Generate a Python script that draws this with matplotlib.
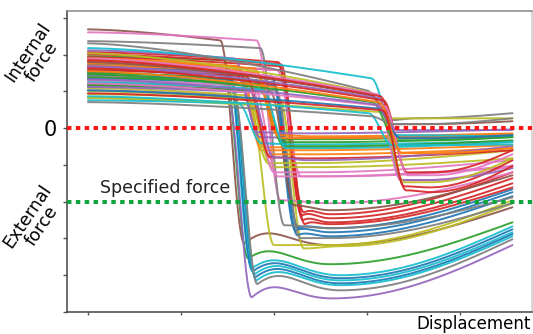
import numpy as np
import matplotlib
matplotlib.use("Agg")
import matplotlib.pyplot as plt

# one entry per loading curve: colour, force at start, force just before the drop,
# displacement where the force drops, force just after the drop, displacement and
# force of the lowest point, size of the small rebound after the drop, force at end
curve_colors = [
    "tab:brown", "tab:green", "tab:cyan", "tab:blue", "tab:cyan", "tab:blue", "tab:cyan", "tab:gray", "tab:purple",
    "tab:olive", "tab:olive", "tab:blue", "tab:blue", "tab:blue", "tab:gray", "tab:red", "tab:red", "tab:red", "tab:red",
    "tab:brown", "tab:pink", "tab:gray", "tab:pink",
    "tab:orange", "tab:orange", "tab:orange", "tab:olive", "tab:olive", "tab:pink", "tab:pink", "tab:purple", "tab:purple",
    "tab:cyan", "tab:green", "tab:green", "tab:green", "tab:orange", "tab:orange", "tab:cyan", "tab:red", "tab:purple",
    "tab:cyan", "tab:gray", "tab:olive", "tab:brown", "tab:pink", "tab:red", "tab:purple", "tab:olive", "tab:red",
    "tab:green", "tab:pink", "tab:blue", "tab:purple", "tab:cyan", "tab:gray", "tab:orange", "tab:red",
]
start_force = [
    2.69, 1.96, 1.85, 1.74, 1.58, 1.44, 1.31, 1.14, 1.03,
    0.82, 0.93, 1.69, 1.52, 1.36, 1.25, 2.07, 1.93, 1.82, 2.01,
    1.20, 2.61, 2.37, 1.80,
    1.90, 1.77, 1.63, 1.09, 1.01, 1.41, 1.31, 2.12, 1.66,
    0.76, 1.50, 1.39, 1.17, 1.85, 1.71, 1.25, 1.58, 1.12,
    2.18, 2.31, 2.04, 1.80, 1.90, 1.85, 1.69, 0.84, 1.63,
    1.47, 1.22, 1.03, 1.33, 0.87, 0.71, 1.55, 0.95,
]
predrop_force = [
    2.39, 1.85, 1.69, 1.58, 1.44, 1.31, 1.17, 1.03, 0.90,
    0.63, 0.76, 1.41, 1.25, 1.17, 1.03, 1.80, 1.69, 1.58, 1.74,
    0.98, 2.39, 2.18, 1.58,
    1.69, 1.58, 1.47, 0.90, 0.82, 1.22, 1.14, 1.90, 1.47,
    0.68, 1.31, 1.20, 1.01, 1.63, 1.52, 1.06, 1.41, 0.98,
    1.36, 1.03, 0.98, 0.90, 0.93, 0.87, 0.82, 0.44, 0.76,
    0.71, 0.60, 0.54, 0.65, 0.41, 0.33, 0.71, 0.49,
]
drop_disp = [
    155, 159, 163, 164, 166, 167, 168, 169, 163,
    187, 219, 210, 212, 213, 215, 217, 218, 219, 220,
    209, 194, 198, 216,
    174, 176, 181, 181, 185, 187, 191, 170, 172,
    174, 194, 196, 198, 191, 194, 200, 183, 187,
    317, 312, 314, 316, 323, 327, 325, 327, 330,
    318, 331, 323, 320, 314, 316, 325, 329,
]
after_force = [
    -3.13, -3.54, -3.81, -3.89, -3.97, -4.05, -4.14, -4.24, -4.60,
    -3.18, -3.27, -2.78, -2.91, -2.72, -2.99, -2.37, -2.50, -2.29, -2.61,
    -2.10, -1.96, -2.64, -1.31,
    -0.60, -0.52, -0.71, -0.95, -1.06, -1.20, -1.31, -0.11, -0.24,
    -0.41, -0.30, -0.38, -0.49, -0.19, -0.27, -0.54, -0.79, -0.79,
    -0.19, 0.22, 0.27, 0.11, -1.41, -1.58, -1.41, -1.47, -1.20,
    -0.33, -1.28, -0.27, -0.05, -0.46, 0.11, -0.68, -1.69,
]
low_disp = [
    260, 260, 271, 271, 271, 271, 271, 271, 262,
    260, 271, 260, 260, 260, 260, 260, 260, 260, 260,
    260, 260, 260, 260,
    224, 226, 231, 231, 235, 237, 241, 220, 222,
    224, 243, 245, 248, 241, 243, 250, 233, 237,
    357, 352, 354, 356, 362, 367, 365, 367, 370,
    358, 371, 362, 360, 354, 356, 365, 369,
]
low_force = [
    -3.18, -3.70, -4.00, -4.08, -4.14, -4.22, -4.27, -4.41, -4.63,
    -3.18, -3.21, -2.83, -2.94, -2.72, -2.99, -2.45, -2.56, -2.34, -2.61,
    -2.23, -2.04, -2.72, -1.31,
    -0.60, -0.52, -0.71, -0.95, -1.06, -1.20, -1.31, -0.14, -0.27,
    -0.44, -0.30, -0.38, -0.49, -0.22, -0.27, -0.54, -0.82, -0.87,
    -0.19, 0.27, 0.27, 0.11, -1.41, -1.61, -1.41, -1.47, -1.20,
    -0.33, -1.28, -0.27, -0.05, -0.46, 0.11, -0.68, -1.74,
]
rebound_force = [
    0.28, 0.22, 0.25, 0.25, 0.25, 0.25, 0.25, 0.25, 0.28,
    0.0, 0.0, 0.05, 0.05, 0.05, 0.0, 0.05, 0.05, 0.05, 0.05,
    0.0, 0.0, 0.0, 0.0,
    0.0, 0.0, 0.0, 0.0, 0.0, 0.0, 0.0, 0.0, 0.0,
    0.0, 0.0, 0.0, 0.0, 0.0, 0.0, 0.0, 0.0, 0.0,
    0.0, 0.0, 0.0, 0.0, 0.0, 0.0, 0.0, 0.0, 0.0,
    0.0, 0.0, 0.0, 0.0, 0.0, 0.0, 0.0, 0.0,
]
end_force = [
    -2.15, -2.56, -2.67, -2.75, -2.83, -2.88, -2.94, -3.02, -3.18,
    -1.96, -2.04, -1.74, -1.85, -1.66, -2.04, -1.36, -1.50, -1.20, -1.61,
    -1.28, -1.20, -1.88, -1.06,
    -0.46, -0.35, -0.54, -0.60, -0.82, -0.87, -1.03, -0.03, -0.16,
    -0.35, -0.19, -0.24, -0.33, -0.14, -0.22, -0.38, -0.60, -0.49,
    -0.24, 0.41, 0.27, 0.19, -1.01, -0.87, -1.09, -0.82, -0.60,
    -0.24, -0.71, -0.19, -0.05, -0.44, 0.27, -0.54, -1.03,
]

zero_force = 0
specified_force = -2
disp_end = 456
half_drop = 13

disp = np.linspace(0, disp_end, 1200)


def force_curve(s, p, xd, a, lx, lo, rb, e):
    f = np.empty_like(disp)
    x0 = xd - half_drop
    x1 = xd + half_drop
    # slow sag before the drop
    m = disp <= x0
    t = disp[m] / x0
    f[m] = s + (p - s) * t ** 1.5
    # the drop itself
    m = (disp > x0) & (disp <= x1)
    t = (disp[m] - x0) / (x1 - x0)
    f[m] = p + (a - p) * 0.5 * (1 - np.cos(np.pi * t))
    # settling down to the lowest point, with a small rebound
    m = (disp > x1) & (disp <= lx)
    t = (disp[m] - x1) / (lx - x1)
    u = 1 - (1 - t) ** 2
    f[m] = a + (lo - a) * 0.5 * (1 - np.cos(np.pi * t)) + rb * np.sin(np.pi * u)
    # recovery towards the end
    m = disp > lx
    t = (disp[m] - lx) / (disp_end - lx)
    f[m] = lo + (e - lo) * (1 - np.cos(np.pi / 2 * t))
    return f


fig = plt.figure(figsize=(5.33, 3.34), dpi=100)
ax = fig.add_axes([67 / 533, 1 - 312 / 334, 465 / 533, 301 / 334])

for i in range(len(curve_colors)):
    f = force_curve(start_force[i], predrop_force[i], drop_disp[i], after_force[i],
                    low_disp[i], low_force[i], rebound_force[i], end_force[i])
    ax.plot(disp, f, color=curve_colors[i], lw=1.4, alpha=0.92, solid_capstyle="round")

ax.axhline(zero_force, color="#ff1414", lw=2.9, ls=(0, (1.1, 1.1)), dash_capstyle="butt", zorder=5)
ax.axhline(specified_force, color="#10a53a", lw=2.9, ls=(0, (1.1, 1.1)), dash_capstyle="butt", zorder=5)
ax.text(13, -1.63, "Specified force", fontsize=12.5, ha="left", va="center", color="#222222")

ax.set_xlim(-22.5, 477)
ax.set_ylim(-5, 3.19)
ax.set_yticks(range(-5, 4))
ax.set_yticklabels(["0" if v == 0 else "" for v in range(-5, 4)], fontsize=15)
ax.set_xticks([0, 100, 200, 300, 400])
ax.set_xticklabels([])
ax.tick_params(axis="y", length=3, width=1, color="#555555", pad=4)
ax.tick_params(axis="x", length=2.5, width=1, color="#555555")

ax.spines["left"].set_color("#444444")
ax.spines["bottom"].set_color("#444444")
ax.spines["top"].set_color("#888888")
ax.spines["right"].set_color("#cccccc")
for sp in ax.spines.values():
    sp.set_linewidth(1.1)

fig.text(35 / 533, 1 - 57 / 334, "Internal\nforce", rotation=56, fontsize=12.5,
         ha="center", va="center", multialignment="center", linespacing=0.95)
fig.text(35 / 533, 1 - 221 / 334, "External\nforce", rotation=56, fontsize=12.5,
         ha="center", va="center", multialignment="center", linespacing=0.95)
fig.text(531 / 533, 1 - 324 / 334, "Displacement", fontsize=12, ha="right", va="center")

fig.savefig("out.png", dpi=100)
